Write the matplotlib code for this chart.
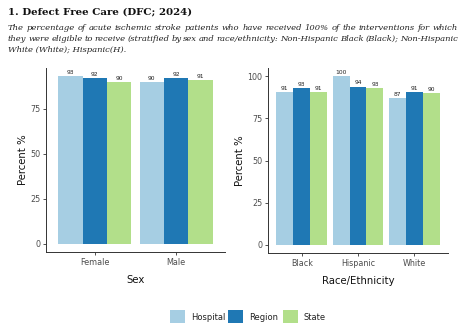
import matplotlib
matplotlib.use("Agg")
import matplotlib.pyplot as plt
import numpy as np
from matplotlib.patches import Rectangle

# Defect Free Care (DFC) 2024, percent by group
series = ["Hospital", "Region", "State"]
colors = ["#A6CEE3", "#1F78B4", "#B2DF8A"]

sex_groups = ["Female", "Male"]
sex_hospital = [93, 90]
sex_region = [92, 92]
sex_state = [90, 91]

race_groups = ["Black", "Hispanic", "White"]
race_hospital = [91, 100, 87]
race_region = [93, 94, 91]
race_state = [91, 93, 90]

title = "1. Defect Free Care (DFC; 2024)"
subtitle_lines = [
    "The percentage of acute ischemic stroke patients who have received 100% of the interventions for which",
    "they were eligible to receive (stratified by sex and race/ethnicity: Non-Hispanic Black (Black); Non-Hispanic",
    "White (White); Hispanic(H).",
]

W, H = 470, 327
fig = plt.figure(figsize=(W / 100, H / 100), dpi=100)
fig.patch.set_facecolor("white")

TICK_GRAY = "#4D4D4D"


def px(x, y):
    return x / W, 1 - y / H


def justified_text(lines, x0, x1, y0, dy, justify_last=False, **kw):
    renderer = fig.canvas.get_renderer()
    for i, line in enumerate(lines):
        fx, fy = px(x0, y0 + i * dy)
        words = line.split(" ")
        last = i == len(lines) - 1
        if last and not justify_last:
            fig.text(fx, fy, line, ha="left", va="baseline", **kw)
            continue
        arts = [fig.text(0, fy, w, ha="left", va="baseline", **kw) for w in words]
        widths = [a.get_window_extent(renderer).width for a in arts]
        gap = (x1 - x0 - sum(widths)) / (len(words) - 1)
        cur = x0
        for a, w in zip(arts, widths):
            a.set_x(cur / W)
            cur += w + gap


fig.text(*px(8, 14), title, fontsize=7.4, fontweight="bold",
         family="DejaVu Serif", ha="left", va="baseline", color="#111111")
justified_text(subtitle_lines, 8, 458, 30, 10.8, fontsize=6.0,
               family="DejaVu Serif", style="italic", color="#222222")


def draw_panel(rect, groups, values, xlabel, ymax):
    ax = fig.add_axes(rect)
    n = len(groups)
    x = np.arange(1, n + 1)
    bw = 0.9 / 3
    for k, (vals, col) in enumerate(zip(values, colors)):
        pos = x - 0.45 + bw * (k + 0.5)
        ax.bar(pos, vals, width=bw, color=col, edgecolor="none")
        for p, v in zip(pos, vals):
            ax.text(p, v + 0.6, f"{v}", ha="center", va="bottom",
                    fontsize=4.3, color="#222222")
    ax.set_xlim(0.4, n + 0.6)
    ax.set_ylim(-ymax * 0.05, ymax * 1.05)
    ax.set_yticks([0, 25, 50, 75, 100] if ymax >= 100 else [0, 25, 50, 75])
    ax.set_xticks(x)
    ax.set_xticklabels(groups)
    ax.tick_params(axis="both", labelsize=5.8, labelcolor=TICK_GRAY,
                   color="#333333", length=2.5, width=0.6, pad=1.5)
    for s in ["top", "right"]:
        ax.spines[s].set_visible(False)
    for s in ["left", "bottom"]:
        ax.spines[s].set_linewidth(0.7)
        ax.spines[s].set_color("#333333")
    ax.set_ylabel("Percent %", fontsize=7.3, color="#111111", labelpad=1.5)
    ax.set_xlabel(xlabel, fontsize=7.3, color="#111111", labelpad=6)
    ax.set_facecolor("white")
    return ax


l, t = px(46, 68)
r, b = px(225, 252)
draw_panel([l, b, r - l, t - b], sex_groups,
           [sex_hospital, sex_region, sex_state], "Sex", 93)

l, t = px(268, 68)
r, b = px(448, 253)
draw_panel([l, b, r - l, t - b], race_groups,
           [race_hospital, race_region, race_state], "Race/Ethnicity", 100)

# legend at the bottom
swatch_x = [170, 228, 283]
for sx, name, col in zip(swatch_x, series, colors):
    fx, fy = px(sx, 323)
    fig.patches.append(Rectangle((fx, fy), 15 / W, 13 / H, transform=fig.transFigure,
                                 facecolor=col, edgecolor="none"))
    tx, ty = px(sx + 21, 317)
    fig.text(tx, ty, name, fontsize=6.0, color="#222222", ha="left", va="center")

fig.savefig("out.png", dpi=100)
